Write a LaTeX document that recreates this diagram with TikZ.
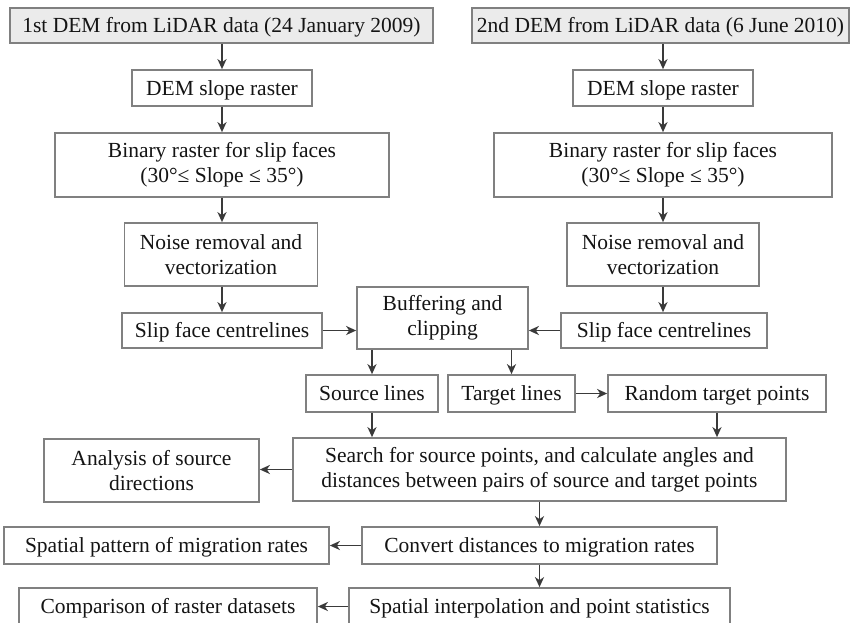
\documentclass[tikz,border=0pt]{standalone}
\usepackage{fontspec}
\setmainfont{Liberation Serif}
\usetikzlibrary{arrows.meta}
\definecolor{boxline}{HTML}{808080}
\definecolor{topfill}{HTML}{EBEBEB}
\definecolor{arrowcol}{HTML}{3A3A3A}
\definecolor{txtcol}{HTML}{141414}
\tikzset{
  pbox/.style={draw=boxline, line width=1.7pt, inner sep=0pt, align=center,
    text=txtcol, font=\fontsize{21.5}{25}\selectfont},
  one/.style={text height=17pt, text depth=3pt},
  topbox/.style={pbox, one, fill=topfill},
  conn/.style={draw=arrowcol, line width=1.8pt, -{Stealth[length=10pt,width=9pt,inset=3pt]}}
}
\begin{document}
\begin{tikzpicture}[x=1pt,y=-1pt]
\useasboundingbox (0,0) rectangle (851,622);
\clip (0,0) rectangle (851,622);
\fill[white] (0,0) rectangle (851,622);
% top
\node[topbox, minimum width=423pt, minimum height=35pt] (top1) at (221.5,25.5) {1st DEM from LiDAR data (24 January 2009)};
\node[topbox, minimum width=377pt, minimum height=35pt] (top2) at (660.5,25.5) {2nd DEM from LiDAR data (6 June 2010)};
% columns
\node[pbox, one, minimum width=180pt, minimum height=36pt] (dem1) at (222,88) {DEM slope raster};
\node[pbox, one, minimum width=180pt, minimum height=36pt] (dem2) at (663,88) {DEM slope raster};
\node[pbox, minimum width=334pt, minimum height=64pt] (bin1) at (222,165) {Binary raster for slip faces\\(30°≤ Slope ≤ 35°)};
\node[pbox, minimum width=338pt, minimum height=64pt] (bin2) at (663,165) {Binary raster for slip faces\\(30°≤ Slope ≤ 35°)};
\node[pbox, minimum width=193pt, minimum height=63pt] (noise1) at (221,254.5) {Noise removal and\\vectorization};
\node[pbox, minimum width=192pt, minimum height=63pt] (noise2) at (663,254.5) {Noise removal and\\vectorization};
\node[pbox, one, minimum width=200pt, minimum height=35pt] (slip1) at (222,330.5) {Slip face centrelines};
\node[pbox, one, minimum width=206pt, minimum height=35pt] (slip2) at (664,330.5) {Slip face centrelines};
\node[pbox, minimum width=171pt, minimum height=62pt] (buf) at (442.5,318) {Buffering and\\clipping};
\node[pbox, one, minimum width=132pt, minimum height=37pt] (src) at (372,393.5) {Source lines};
\node[pbox, one, minimum width=127pt, minimum height=37pt] (tgt) at (511.5,393.5) {Target lines};
\node[pbox, one, minimum width=218pt, minimum height=37pt] (rnd) at (717,393.5) {Random target points};
\node[pbox, minimum width=493pt, minimum height=63pt] (search) at (539.5,469.5) {Search for source points, and calculate angles and\\distances between pairs of source and target points};
\node[pbox, minimum width=215pt, minimum height=63pt] (anal) at (151.5,470.5) {Analysis of source\\directions};
\node[pbox, one, minimum width=325pt, minimum height=37pt] (spat) at (166.5,545.5) {Spatial pattern of migration rates};
\node[pbox, one, minimum width=355pt, minimum height=37pt] (conv) at (539.5,545.5) {Convert distances to migration rates};
\node[pbox, one, minimum width=298pt, minimum height=37pt] (comp) at (168,606.5) {Comparison of raster datasets};
\node[pbox, one, minimum width=381pt, minimum height=37pt] (interp) at (539.5,606.5) {Spatial interpolation and point statistics};
% connectors
\draw[conn] (top1.south -| dem1) -- (dem1.north);
\draw[conn] (top2.south -| dem2) -- (dem2.north);
\draw[conn] (dem1) -- (bin1.north -| dem1);
\draw[conn] (dem2) -- (bin2.north -| dem2);
\draw[conn] (bin1.south -| dem1) -- (noise1.north -| dem1);
\draw[conn] (bin2.south -| dem2) -- (noise2.north -| dem2);
\draw[conn] (noise1.south -| dem1) -- (slip1.north -| dem1);
\draw[conn] (noise2.south -| dem2) -- (slip2.north -| dem2);
\draw[conn] (slip1.east) -- (buf.west |- slip1);
\draw[conn] (slip2.west) -- (buf.east |- slip2);
\draw[conn] (buf.south -| src) -- (src.north);
\draw[conn] (buf.south -| tgt) -- (tgt.north);
\draw[conn] (tgt.east) -- (rnd.west);
\draw[conn] (src.south) -- (search.north -| src);
\draw[conn] (rnd.south) -- (search.north -| rnd);
\draw[conn] (search.west) -- (anal.east |- search);
\draw[conn] (search.south) -- (conv.north);
\draw[conn] (conv.west) -- (spat.east);
\draw[conn] (conv.south) -- (interp.north);
\draw[conn] (interp.west) -- (comp.east);
\end{tikzpicture}
\end{document}
